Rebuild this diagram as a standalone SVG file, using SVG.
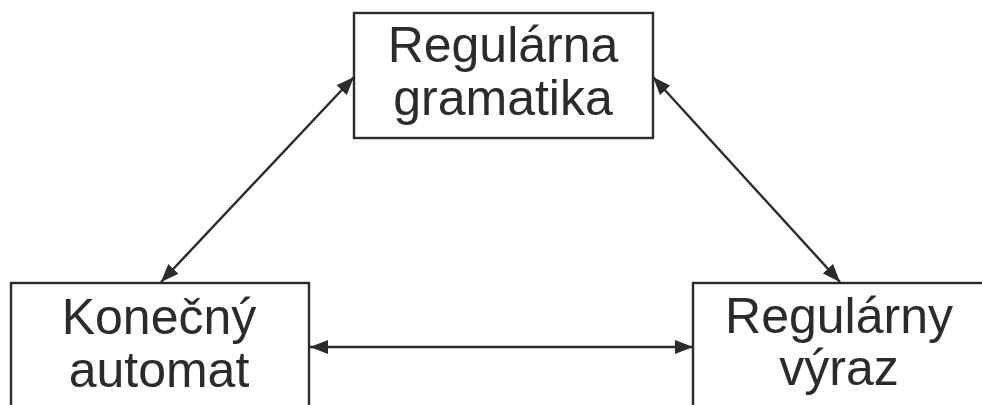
<svg xmlns="http://www.w3.org/2000/svg" width="982" height="405" viewBox="0 0 982 405">
  <style>
    .box { fill: #ffffff; stroke: #2b2b2b; stroke-width: 2.4; }
    .label { font-family: "Liberation Sans", Arial, sans-serif; font-size: 50px; fill: #2b2b2b; text-anchor: middle; }
    .link { stroke: #2b2b2b; stroke-width: 2.4; fill: none; marker-start: url(#head); marker-end: url(#head); }
  </style>
  <defs>
    <marker id="head" viewBox="0 0 18 14" refX="18" refY="7" markerWidth="18" markerHeight="14" markerUnits="userSpaceOnUse" orient="auto-start-reverse">
      <path d="M0,0 L18,7 L0,14 Z" fill="#2b2b2b"/>
    </marker>
  </defs>
  <rect width="982" height="405" fill="#ffffff"/>

  <g id="connectors">
    <line class="link" x1="354" y1="77" x2="161" y2="282"/>
    <line class="link" x1="653" y1="77" x2="840" y2="282"/>
    <line class="link" x1="310" y1="347" x2="693" y2="347"/>
  </g>

  <g id="regularna-gramatika">
    <rect class="box" x="354" y="13" width="299" height="125"/>
    <text class="label" x="503" y="62">Regulárna</text>
    <text class="label" x="503" y="115">gramatika</text>
  </g>

  <g id="konecny-automat">
    <rect class="box" x="11" y="283" width="298" height="140"/>
    <text class="label" x="159" y="334">Konečný</text>
    <text class="label" x="159" y="387">automat</text>
  </g>

  <g id="regularny-vyraz">
    <rect class="box" x="693" y="283" width="310" height="140"/>
    <text class="label" x="839" y="333">Regulárny</text>
    <text class="label" x="839" y="385">výraz</text>
  </g>
</svg>
